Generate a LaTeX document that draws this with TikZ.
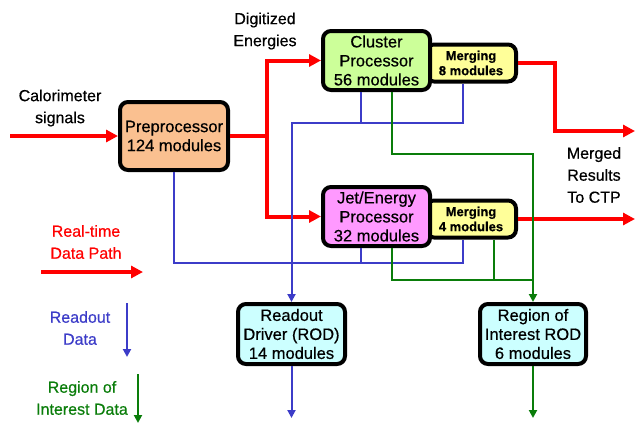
\documentclass[tikz,border=0pt]{standalone}
\usepackage{fontspec}
\setmainfont{Liberation Sans}[FakeBold=0.5]
\usepackage{tikz}
\usetikzlibrary{arrows.meta, calc}
\definecolor{rtred}{RGB}{255,0,0}
\definecolor{roblue}{RGB}{60,60,200}
\definecolor{rigreen}{RGB}{10,125,10}
\definecolor{prefill}{RGB}{250,192,144}
\definecolor{clufill}{RGB}{204,255,153}
\definecolor{jetfill}{RGB}{255,153,255}
\definecolor{mrgfill}{RGB}{255,255,153}
\definecolor{rodfill}{RGB}{204,255,255}
\newcommand{\boxfont}{\fontsize{16.5}{19}\selectfont}
\newcommand{\labfont}{\fontsize{16}{22}\selectfont}
\newcommand{\mrgfont}{\bfseries\fontsize{13}{15}\selectfont}

\begin{document}
\begin{tikzpicture}[x=1pt, y=-1pt,
    module/.style={draw, line width=4pt, rounded corners=8pt, align=center, font=\boxfont, inner sep=0pt},
    merger/.style={module, fill=mrgfill, font=\mrgfont, minimum width=90pt, minimum height=37pt},
    lab/.style={align=center, font=\labfont},
    rt/.style={rtred, line width=4pt, -{Triangle[length=12pt,width=12pt]}},
    ro/.style={roblue, line width=2pt},
    ri/.style={rigreen, line width=2pt},
    tip/.style={-{Triangle[length=8pt,width=8pt]}}]
    \useasboundingbox (0,0) rectangle (635,424);

    \node[module, fill=prefill, minimum width=108pt, minimum height=68pt] (pre) at (174,136) {Preprocessor\\124 modules};
    \node[merger] (mrgc) at (471,63) {Merging\\8 modules};
    \node[module, fill=clufill, minimum width=107pt, minimum height=59pt] (clu) at (376.5,60.5) {Cluster\\Processor\\56 modules};
    \node[merger] (mrgj) at (471,219) {Merging\\4 modules};
    \node[module, fill=jetfill, minimum width=107pt, minimum height=59pt] (jet) at (376.5,216.5) {Jet/Energy\\Processor\\32 modules};
    \node[module, fill=rodfill, minimum width=107pt, minimum height=60pt] (rod) at (291.5,334) {Readout\\Driver (ROD)\\14 modules};
    \node[module, fill=rodfill, minimum width=106pt, minimum height=60pt] (roi) at (533,334) {Region of\\Interest ROD\\6 modules};

    \node[lab] (calo) at (60,108) {Calorimeter\\signals};
    \node[lab] (digi) at (265,31) {Digitized\\Energies};
    \node[lab] (ctp) at (594,175) {Merged\\Results\\To CTP};
    \node[lab, text=rtred] (rtkey) at (86,242) {Real-time\\Data Path};
    \node[lab, text=roblue] (rokey) at (80,328) {Readout\\Data};
    \node[lab, text=rigreen] (rikey) at (82,398) {Region of\\Interest Data};

    \coordinate (calin) at (10,136);
    \coordinate (split) at (267,136);
    \coordinate (ctpa) at (635,131);
    \coordinate (ctpb) at (635,219);
    \coordinate (clublue) at ($(clu.south)+(-15.5,0)$);
    \coordinate (clugreen) at ($(clu.south)+(15.5,0)$);
    \coordinate (jetblue) at ($(jet.south)+(-15.5,0)$);
    \coordinate (jetgreen) at ($(jet.south)+(15.5,0)$);
    \coordinate (mrgcblue) at ($(mrgc.south)+(-8,0)$);
    \coordinate (mrgjblue) at ($(mrgj.south)+(-8,0)$);
    \coordinate (mrgjgreen) at ($(mrgj.south)+(23,0)$);

    \draw[rt] (calin) -- (pre.west);
    \draw[rt, -] (pre.east) -- (split);
    \draw[rt] (split) |- (clu.west);
    \draw[rt] (split) |- (jet.west);
    \draw[rt] (mrgc.east) -- ++(37,0) |- (ctpa);
    \draw[rt] (mrgj.east) -- (ctpb);

    \draw[ro, tip] (mrgcblue) |- (rod.north |- 0,123) -- (rod.north);
    \draw[ro] (clublue) -- (clublue |- 0,123);
    \draw[ro] (pre.south) |- (mrgjblue |- 0,263) -- (mrgjblue);
    \draw[ro] (jetblue) -- (jetblue |- 0,263);
    \draw[ro, tip] (rod.south) -- ++(0,52);

    \draw[ri, tip] (clugreen) |- (roi.north |- 0,154) -- (roi.north);
    \draw[ri] (jetgreen) |- (roi.north |- 0,280);
    \draw[ri] (mrgjgreen) -- (mrgjgreen |- 0,280);
    \draw[ri, tip] (roi.south) -- ++(0,52);

    \coordinate (rta) at (41,272);
    \coordinate (rtb) at (143,272);
    \coordinate (roa) at (127,303);
    \coordinate (rob) at (127,357);
    \coordinate (ria) at (138,374);
    \coordinate (rib) at (138,423);
    \draw[rt] (rta) -- (rtb);
    \draw[ro, tip] (roa) -- (rob);
    \draw[ri, tip] (ria) -- (rib);
\end{tikzpicture}
\end{document}
